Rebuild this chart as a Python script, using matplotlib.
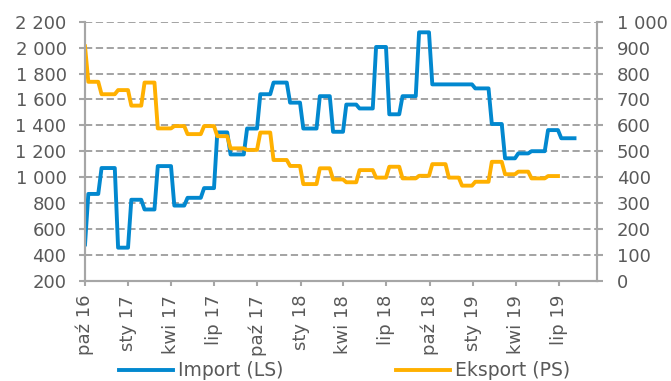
import numpy as np
import pandas as pd
import matplotlib
matplotlib.use('Agg')
import matplotlib.pyplot as plt
from matplotlib.ticker import FuncFormatter, MultipleLocator

# monthly values (tys. ton); import on the left axis, export on the right one
months = pd.period_range('2016-09', '2019-07', freq='M')
imp = [480, 870, 1070, 455,
       825, 750, 1085, 780, 840, 915, 1345, 1175, 1375, 1640, 1730, 1575,
       1375, 1625, 1350, 1560, 1530, 2005, 1485, 1625, 2118, 1716, 1716, 1716,
       1685, 1410, 1145, 1183, 1200, 1363, 1300]
eks = [905, 768, 720, 736,
       676, 765, 588, 597, 566, 597, 558, 511, 505, 572, 466, 443,
       373, 434, 391, 380, 427, 398, 440, 395, 405, 450, 398, 367,
       382, 459, 411, 421, 395, 404]

pl_months = ['sty', 'lut', 'mar', 'kwi', 'maj', 'cze',
             'lip', 'sie', 'wrz', 'paź', 'lis', 'gru']

BLUE = '#0288CF'
ORANGE = '#FFB000'
GRID = '#9c9c9c'
AXIS = '#a6a6a6'
TXT = '#595959'

# weekly readings: each week (ending Saturday) carries the value of the
# month holding most of its days
weeks = pd.date_range('2016-10-01', '2019-08-03', freq='W-SAT')
wk_month = (weeks - pd.Timedelta(days=3)).to_period('M')
imp_w = pd.Series(imp, index=months).reindex(wk_month).to_numpy(dtype=float)
eks_w = pd.Series(eks, index=months[:len(eks)]).reindex(wk_month).to_numpy(dtype=float)

fig = plt.figure(figsize=(6.71, 3.81), dpi=100)
ax = fig.add_axes([0.1267, 0.2633, 0.7626, 0.6797])
ax2 = ax.twinx()

l1, = ax.plot(weeks, imp_w, color=BLUE, lw=2.8, label='Import (LS)')
l2, = ax2.plot(weeks, eks_w, color=ORANGE, lw=2.8, label='Eksport (PS)')

ax.set_ylim(200, 2200)
ax.yaxis.set_major_locator(MultipleLocator(200))
ax2.set_ylim(0, 1000)
ax2.yaxis.set_major_locator(MultipleLocator(100))

thousands = FuncFormatter(lambda v, p: f'{v:,.0f}'.replace(',', ' '))
ax.yaxis.set_major_formatter(thousands)
ax2.yaxis.set_major_formatter(thousands)

ax.set_xlim(pd.Timestamp('2016-10-01'), pd.Timestamp('2019-09-19'))
ticks = pd.date_range('2016-10-01', '2019-07-01', freq='QS-OCT')
ax.set_xticks(ticks)
ax.set_xticklabels([f'{pl_months[d.month - 1]} {d:%y}' for d in ticks],
                   rotation=90)

ax.yaxis.grid(True, linestyle=(0, (4, 2)), color=GRID, lw=1.3)
ax.set_axisbelow(True)

for a in (ax, ax2):
    a.spines['top'].set_visible(False)
    for s in ('left', 'right', 'bottom'):
        a.spines[s].set_color(AXIS)
        a.spines[s].set_linewidth(1.5)
ax.tick_params(axis='y', length=4.3, width=1.5, color=AXIS, pad=9,
               labelsize=13, labelcolor=TXT)
ax2.tick_params(axis='y', length=4.3, width=1.5, color=AXIS, pad=10,
                labelsize=13, labelcolor=TXT)
ax.tick_params(axis='x', length=3.3, width=1.5, color=AXIS, pad=7,
               labelsize=13, labelcolor=TXT)

leg = fig.legend(handles=[l1, l2], loc='center', bbox_to_anchor=(0.513, 0.027),
                 ncol=2, frameon=False, fontsize=13.5, handlelength=2.9,
                 handletextpad=0.25, columnspacing=6, borderpad=0)
for t in leg.get_texts():
    t.set_color(TXT)

fig.savefig('out.png', dpi=100)
